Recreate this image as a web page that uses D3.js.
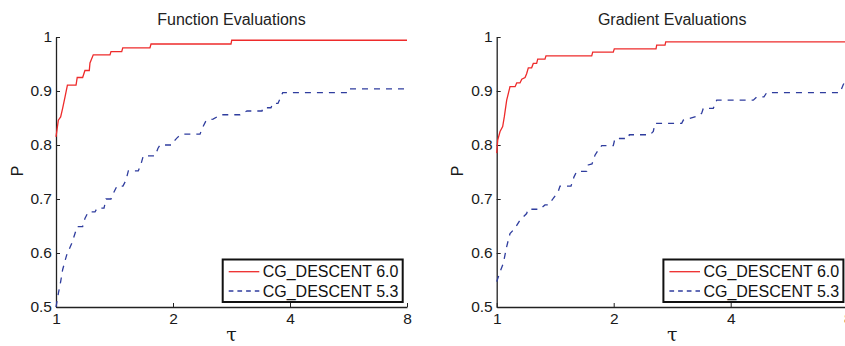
<!DOCTYPE html>
<html>
<head>
<meta charset="utf-8">
<script src="https://cdn.jsdelivr.net/npm/d3@7"></script>
<style>
  body { margin: 0; background: #fff; }
  svg { display: block; font-family: "Liberation Sans", Arial, sans-serif; }
</style>
</head>
<body>
<svg id="chart" width="845" height="346"></svg>
<script>
// performance profiles, tau (ratio) vs P

// Function evaluations
const funcTau60 = [1.000, 1.014, 1.028, 1.040, 1.055, 1.070, 1.126, 1.134, 1.171, 1.187, 1.218, 1.223,
  1.247, 1.377, 1.385, 1.476, 1.485, 1.745, 1.756, 2.820, 2.832, 8];
const funcP60 = [0.815, 0.846, 0.852, 0.868, 0.889, 0.911, 0.911, 0.925, 0.925, 0.938, 0.938, 0.952,
  0.967, 0.967, 0.973, 0.973, 0.980, 0.980, 0.987, 0.987, 0.994, 0.994];

const funcTau53 = [1.000, 1.014, 1.028, 1.040, 1.065, 1.098, 1.119, 1.134, 1.171, 1.187, 1.211, 1.260,
  1.275, 1.329, 1.345, 1.385, 1.410, 1.435, 1.487, 1.514, 1.535, 1.628, 1.655, 1.677, 1.798, 1.830,
  1.852, 1.985, 2.024, 2.060, 2.122, 2.347, 2.389, 2.432, 2.535, 2.658, 2.975, 3.100, 3.389, 3.409,
  3.574, 3.610, 3.725, 3.831, 5.607, 5.640, 8];
const funcP53 = [0.500, 0.525, 0.547, 0.569, 0.596, 0.618, 0.636, 0.649, 0.649, 0.664, 0.676, 0.676,
  0.683, 0.683, 0.700, 0.700, 0.713, 0.724, 0.724, 0.735, 0.752, 0.752, 0.765, 0.780, 0.780, 0.794,
  0.800, 0.800, 0.809, 0.815, 0.820, 0.820, 0.834, 0.845, 0.848, 0.856, 0.856, 0.863, 0.863, 0.869,
  0.869, 0.877, 0.877, 0.897, 0.897, 0.904, 0.904];

// Gradient evaluations
const gradTau60 = [1.000, 1.006, 1.020, 1.036, 1.046, 1.061, 1.082, 1.115, 1.126, 1.148, 1.160, 1.183,
  1.194, 1.206, 1.230, 1.242, 1.267, 1.275, 1.331, 1.339, 1.756, 1.766, 1.995, 2.007, 2.570, 2.580,
  2.711, 2.722, 8];
const gradP60 = [0.785, 0.809, 0.825, 0.834, 0.852, 0.883, 0.908, 0.908, 0.915, 0.915, 0.922, 0.925,
  0.932, 0.943, 0.943, 0.951, 0.951, 0.959, 0.959, 0.965, 0.965, 0.972, 0.972, 0.978, 0.978, 0.985,
  0.985, 0.991, 0.991];

const gradTau53 = [1.000, 1.020, 1.040, 1.061, 1.082, 1.115, 1.148, 1.194, 1.204, 1.292, 1.331, 1.358,
  1.398, 1.440, 1.455, 1.553, 1.581, 1.606, 1.704, 1.720, 1.759, 1.790, 1.826, 1.863, 1.995, 2.015,
  2.181, 2.194, 2.480, 2.529, 2.554, 2.992, 3.021, 3.302, 3.369, 3.401, 3.608, 3.682, 4.573, 4.666,
  4.872, 4.951, 7.643, 7.794, 8];
const gradP53 = [0.547, 0.565, 0.581, 0.612, 0.636, 0.646, 0.661, 0.673, 0.681, 0.681, 0.689, 0.689,
  0.701, 0.714, 0.724, 0.724, 0.741, 0.751, 0.751, 0.763, 0.765, 0.781, 0.791, 0.799, 0.799, 0.812,
  0.812, 0.819, 0.819, 0.825, 0.840, 0.840, 0.846, 0.854, 0.859, 0.868, 0.868, 0.883, 0.883, 0.889,
  0.889, 0.897, 0.897, 0.912, 0.925];

const xTicks = [1, 2, 4, 8];
const xTickLabels = ['1', '2', '4', '8'];
const yTicks = [0.5, 0.6, 0.7, 0.8, 0.9, 1];
const yTickLabels = ['0.5', '0.6', '0.7', '0.8', '0.9', '1'];
const titles = ['Function Evaluations', 'Gradient Evaluations'];
const seriesNames = ['CG_DESCENT 6.0', 'CG_DESCENT 5.3'];

const svg = d3.select('#chart');
const plotW = 351;
const plotTop = 37, plotBottom = 307;
const red = '#ee2b2b', blue = '#2f3d9e';

function drawPanel(x0, title, tauA, pA, tauB, pB) {
  const g = svg.append('g');

  const x = d3.scaleLog().base(2)
    .domain([1, 8])
    .range([x0, x0 + plotW]);

  const y = d3.scaleLinear()
    .domain([0.5, 1])
    .range([plotBottom, plotTop]);

  // x axis, ticks inside
  const xAxis = g.append('g')
    .attr('transform', 'translate(0,' + plotBottom + ')')
    .call(d3.axisBottom(x)
      .tickValues(xTicks)
      .tickFormat((d, i) => xTickLabels[i])
      .tickSizeInner(-4)
      .tickSizeOuter(0)
      .tickPadding(6));

  // y axis
  const yAxis = g.append('g')
    .attr('transform', 'translate(' + x0 + ',0)')
    .call(d3.axisLeft(y)
      .tickValues(yTicks)
      .tickFormat((d, i) => yTickLabels[i])
      .tickSizeInner(-4)
      .tickSizeOuter(0)
      .tickPadding(4));

  [xAxis, yAxis].forEach(a => {
    a.select('.domain').attr('stroke', '#222').attr('stroke-width', 1.3);
    a.selectAll('.tick line').attr('stroke', '#222').attr('stroke-width', 1);
    a.selectAll('.tick text').attr('fill', '#1a1a1a').style('font-size', '15.5px');
  });

  // title
  g.append('text')
    .attr('x', x0 + plotW / 2)
    .attr('y', 24.5)
    .attr('text-anchor', 'middle')
    .attr('fill', '#222')
    .style('font-size', '16px')
    .text(title);

  // axis labels
  g.append('text')
    .attr('transform', 'translate(' + (x0 - 33.5) + ',171) rotate(-90)')
    .attr('text-anchor', 'middle')
    .attr('fill', '#1a1a1a')
    .style('font-size', '16px')
    .text('P');

  g.append('text')
    .attr('x', x0 + plotW / 2)
    .attr('y', 341)
    .attr('text-anchor', 'middle')
    .attr('fill', '#1a1a1a')
    .style('font-family', '"DejaVu Serif", serif')
    .style('font-size', '19px')
    .text('τ');

  const line = d3.line()
    .x(d => x(d[0]))
    .y(d => y(d[1]));

  g.append('path')
    .datum(tauB.map((t, i) => [t, pB[i]]))
    .attr('fill', 'none')
    .attr('stroke', blue)
    .attr('stroke-width', 1.3)
    .attr('stroke-dasharray', '6,6')
    .attr('d', line);

  g.append('path')
    .datum(tauA.map((t, i) => [t, pA[i]]))
    .attr('fill', 'none')
    .attr('stroke', red)
    .attr('stroke-width', 1.3)
    .attr('d', line);

  // legend box, lower right
  const lx = x0 + 166.7, ly = 259.5;
  const legend = g.append('g').attr('transform', 'translate(' + lx + ',' + ly + ')');
  legend.append('rect')
    .attr('width', 180)
    .attr('height', 42.5)
    .attr('fill', '#fff')
    .attr('stroke', '#111')
    .attr('stroke-width', 2);

  const rows = [
    { name: seriesNames[0], color: red, dash: null, dy: 12.2 },
    { name: seriesNames[1], color: blue, dash: '4.7,4', dy: 31.5 }
  ];
  rows.forEach(r => {
    legend.append('line')
      .attr('x1', 6).attr('x2', 36.6)
      .attr('y1', r.dy).attr('y2', r.dy)
      .attr('stroke', r.color)
      .attr('stroke-width', 1.3)
      .attr('stroke-dasharray', r.dash);
    legend.append('text')
      .attr('x', 40)
      .attr('y', r.dy)
      .attr('dy', '0.35em')
      .attr('fill', '#111')
      .style('font-size', '16px')
      .text(r.name);
  });
}

drawPanel(56, titles[0], funcTau60, funcP60, funcTau53, funcP53);
drawPanel(496.7, titles[1], gradTau60, gradP60, gradTau53, gradP53);
</script>
</body>
</html>
